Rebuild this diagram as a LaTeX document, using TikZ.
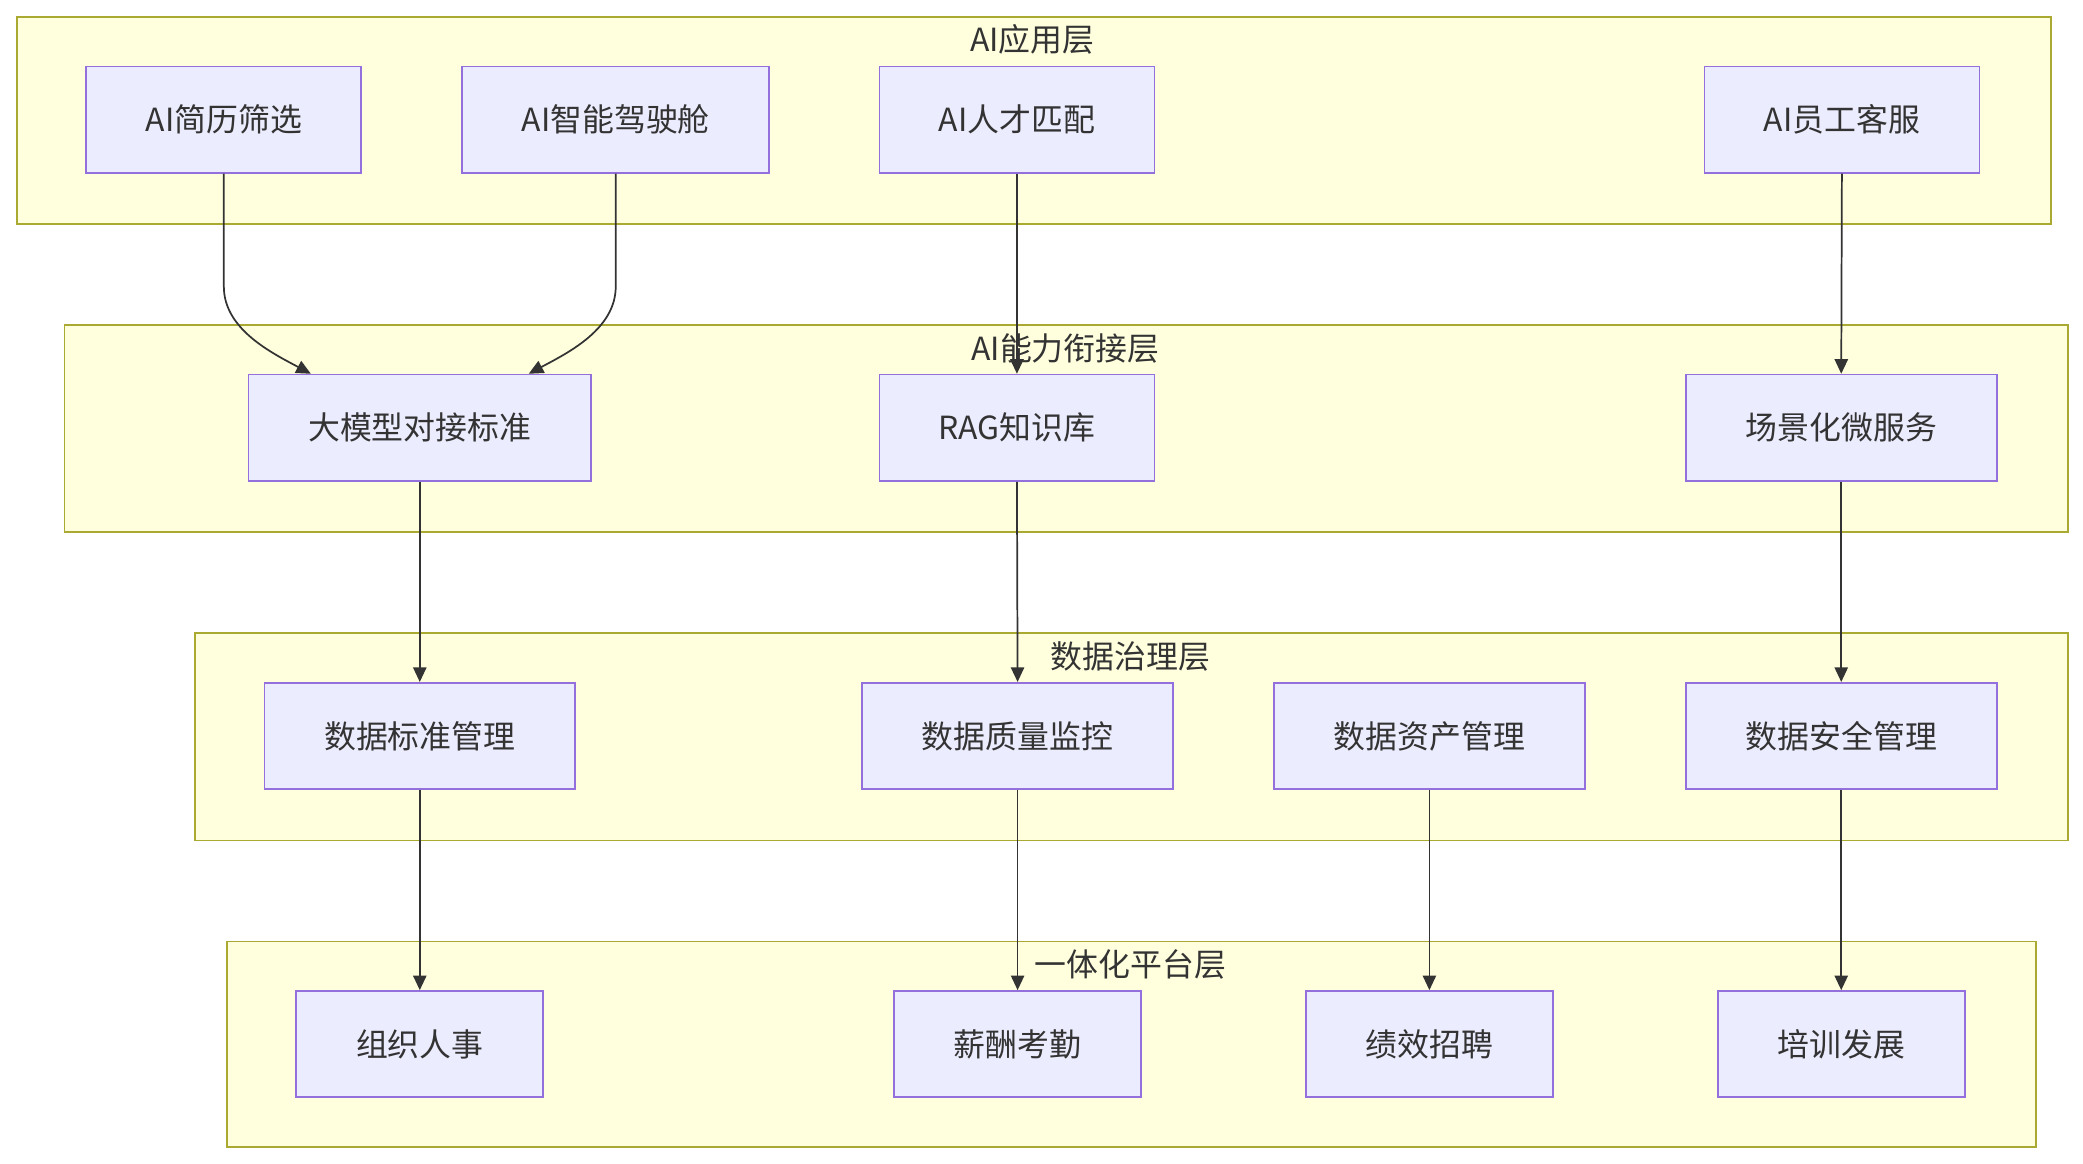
\documentclass[tikz,border=0pt]{standalone}
\usepackage{fontspec}
\setmainfont{Noto Sans CJK SC}
\usetikzlibrary{arrows.meta}
\definecolor{clfill}{HTML}{FFFFDE}
\definecolor{cldraw}{HTML}{AAAA33}
\definecolor{ndfill}{HTML}{ECECFF}
\definecolor{nddraw}{HTML}{9370DB}
\definecolor{txt}{HTML}{333333}
\begin{document}
\begin{tikzpicture}[x=1pt,y=-1pt,
  cluster/.style={draw=cldraw,fill=clfill,line width=1.3pt,anchor=north west,inner sep=0pt},
  cltitle/.style={text=txt,font=\fontsize{24}{28}\selectfont,inner sep=0pt},
  box/.style={draw=nddraw,fill=ndfill,line width=1.3pt,text=txt,font=\fontsize{24}{28}\selectfont,minimum height=80pt,inner sep=0pt},
  edge/.style={draw=txt,line width=1.3pt,-{Triangle[length=11pt,width=10pt]}}]
\useasboundingbox (0,0) rectangle (1568,876);
\fill[white] (0,0) rectangle (1568,876);
% clusters
\node[cluster,minimum width=1531pt,minimum height=156pt] (L1) at (12,12) {};
\node[cluster,minimum width=1508pt,minimum height=156pt] (L2) at (48,244) {};
\node[cluster,minimum width=1410pt,minimum height=156pt] (L3) at (146,476) {};
\node[cluster,minimum width=1362pt,minimum height=155pt] (L4) at (170,708) {};
\node[cltitle] (L1t) at (777,30) {AI应用层};
\node[cltitle] (L2t) at (802,262) {AI能力衔接层};
\node[cltitle] (L3t) at (851,494) {数据治理层};
\node[cltitle] (L4t) at (851,726) {一体化平台层};
% layer 1
\node[box,minimum width=207pt] (a1) at (168.5,90) {AI简历筛选};
\node[box,minimum width=231pt] (a2) at (463.5,90) {AI智能驾驶舱};
\node[box,minimum width=207pt] (a3) at (765.5,90) {AI人才匹配};
\node[box,minimum width=207pt] (a4) at (1386.5,90) {AI员工客服};
% layer 2
\node[box,minimum width=258pt] (b1) at (316,322) {大模型对接标准};
\node[box,minimum width=207pt] (b2) at (765.5,322) {RAG知识库};
\node[box,minimum width=234pt] (b3) at (1386,322) {场景化微服务};
% layer 3
\node[box,minimum width=234pt] (c1) at (316,554) {数据标准管理};
\node[box,minimum width=234pt] (c2) at (766,554) {数据质量监控};
\node[box,minimum width=234pt] (c3) at (1076,554) {数据资产管理};
\node[box,minimum width=234pt] (c4) at (1386,554) {数据安全管理};
% layer 4
\node[box,minimum width=186pt] (d1) at (316,786) {组织人事};
\node[box,minimum width=186pt] (d2) at (766,786) {薪酬考勤};
\node[box,minimum width=186pt] (d3) at (1076,786) {绩效招聘};
\node[box,minimum width=186pt] (d4) at (1386,786) {培训发展};
% edges
\draw[edge] (a1.south) -- ++(0,85) .. controls ++(0,32) and ++(-30,-16) .. ([xshift=-82pt]b1.north);
\draw[edge] (a2.south) -- ++(0,85) .. controls ++(0,32) and ++(30,-16) .. ([xshift=82pt]b1.north);
\draw[edge] (a3.south) -- (b2.north);
\draw[edge] (a4.south) -- (b3.north);
\draw[edge] (b1.south) -- (c1.north);
\draw[edge] (b2.south) -- (c2.north);
\draw[edge] (b3.south) -- (c4.north);
\draw[edge] (c1.south) -- (d1.north);
\draw[edge] (c2.south) -- (d2.north);
\draw[edge] (c3.south) -- (d3.north);
\draw[edge] (c4.south) -- (d4.north);
\end{tikzpicture}
\end{document}
